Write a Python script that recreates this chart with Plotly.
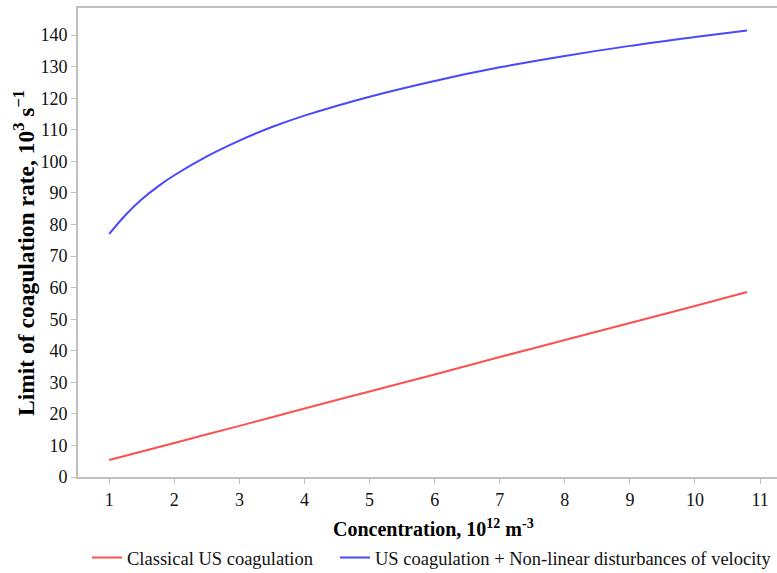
import plotly.graph_objects as go

conc_blue = [1, 1.25, 1.5, 1.75, 2, 2.5, 3, 3.5, 4, 5, 6, 7, 8, 9, 10, 10.8]
rate_blue = [77, 83, 88, 92.1, 95.6, 101.6, 106.6, 110.9, 114.5, 120.5, 125.5, 129.8, 133.4, 136.6, 139.4, 141.5]

conc_red = [1, 2, 3, 4, 5, 6, 7, 8, 9, 10, 10.8]
rate_red = [5.4, 10.8, 16.2, 21.7, 27.1, 32.5, 38.0, 43.4, 48.8, 54.2, 58.6]

x_ticks = list(range(1, 12))
y_ticks = list(range(0, 150, 10))

FONT = "Liberation Serif"

fig = go.Figure()
fig.add_trace(go.Scatter(x=conc_red, y=rate_red, mode="lines", name="Classical US coagulation",
                         line=dict(color="#ff5050", width=2, shape="spline"), legend="legend"))
fig.add_trace(go.Scatter(x=conc_blue, y=rate_blue, mode="lines",
                         name="US coagulation + Non-linear disturbances of velocity",
                         line=dict(color="#4848ff", width=2, shape="spline"), legend="legend2"))

W, H = 777, 573
L, R, T, B = 78, 0, 8, 96
pw, ph = W - L - R, H - T - B

def px_x(p):
    return (p - L) / pw

def px_y(p):
    return (H - B - p) / ph

leg_common = dict(orientation="h", yanchor="middle",
                  font=dict(family=FONT, size=18.5, color="#111"), itemwidth=30,
                  bgcolor="rgba(0,0,0,0)")

fig.update_layout(
    width=W, height=H,
    margin=dict(l=L, r=R, t=T, b=B, autoexpand=False),
    paper_bgcolor="white", plot_bgcolor="white",
    font=dict(family=FONT, size=16, color="#111"),
    showlegend=True,
    legend=dict(x=px_x(87), xanchor="left", y=px_y(558), **leg_common),
    legend2=dict(x=1.0, xanchor="right", y=px_y(558), **leg_common),
    annotations=[
        dict(text="<b>Concentration, 10<sup>12</sup> m<sup>-3</sup></b>", xref="paper", yref="paper",
             x=px_x(433), y=px_y(528), xanchor="center", yanchor="middle", showarrow=False,
             font=dict(family=FONT, size=20, color="#000")),
        dict(text="<b>Limit of coagulation rate, 10<sup>3</sup> s<sup>\u22121</sup></b>", xref="paper", yref="paper",
             x=px_x(24), y=px_y(253), xanchor="center", yanchor="middle", showarrow=False, textangle=-90,
             font=dict(family=FONT, size=23.5, color="#000")),
    ],
)
fig.update_xaxes(
    range=[0.52, 11.26], tickvals=x_ticks, showgrid=False, zeroline=False, automargin=False,
    showline=True, linecolor="#c0c0c0", linewidth=2, mirror=True,
    ticks="outside", ticklen=5, tickcolor="#c0c0c0", tickwidth=1,
    tickfont=dict(family=FONT, size=18, color="#111"),
)
fig.update_yaxes(
    range=[0, 148.6], tickvals=y_ticks, showgrid=False, zeroline=False, automargin=False,
    showline=True, linecolor="#c0c0c0", linewidth=2,
    ticks="outside", ticklen=5, tickcolor="#c0c0c0", tickwidth=1,
    tickfont=dict(family=FONT, size=18, color="#111"),
)

fig.write_html("out.html")
